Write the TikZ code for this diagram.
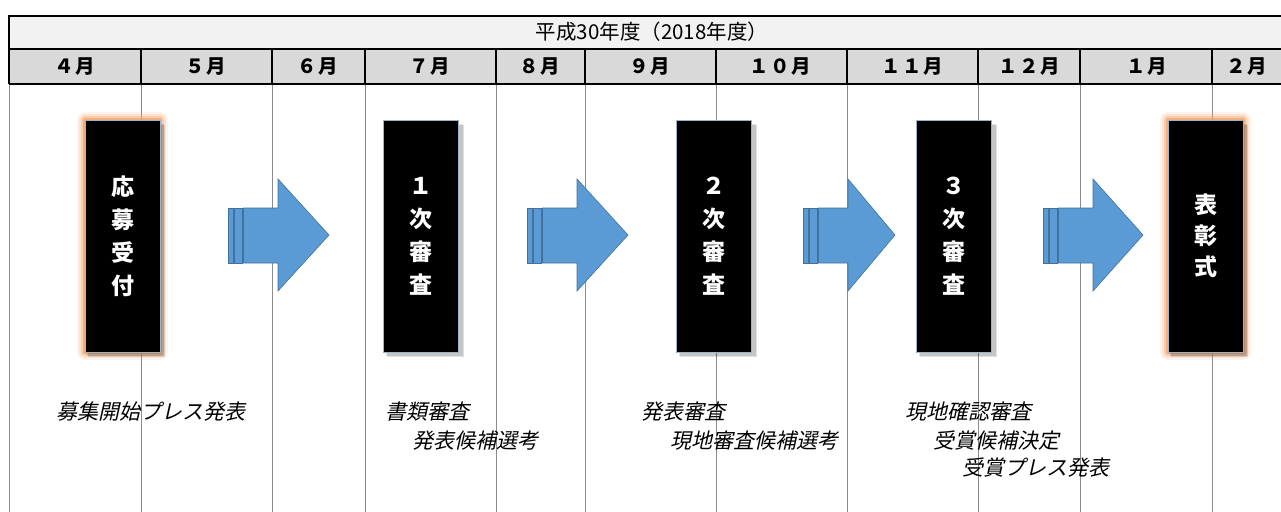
\documentclass[tikz,border=0pt]{standalone}
\usepackage{fontspec}
\newfontfamily\jp{Noto Sans CJK JP}
\newfontfamily\jpm[LetterSpace=8]{Noto Sans CJK JP}
\newfontfamily\jpit[FakeSlant=0.22]{Noto Sans CJK JP}
\definecolor{hdrfill}{HTML}{F2F2F2}
\definecolor{monfill}{HTML}{D9D9D9}
\definecolor{gridgray}{HTML}{8C8C8C}
\definecolor{arrowblue}{HTML}{5B9BD5}
\definecolor{arrowedge}{HTML}{41719C}
\definecolor{glow}{HTML}{F2A066}
\definecolor{boxedge}{HTML}{9DB3C8}
\tikzset{
  gridline/.style={draw=gridgray,line width=0.9pt},
  hdrtext/.style={font=\jp\fontsize{20.5}{22}\selectfont,inner sep=0pt},
  montext/.style={font=\jpm\bfseries\fontsize{19.5}{21}\selectfont,inner sep=0pt},
  stagebox/.style={fill=black,draw=boxedge,line width=1pt,minimum width=75pt,minimum height=232pt,inner sep=0pt,
     text=white,align=center,font=\jp\bfseries\fontsize{23}{33}\selectfont},
  labeltext/.style={font=\jpit\fontsize{21}{22}\selectfont,anchor=west,inner sep=0pt},
  arrowpart/.style={fill=arrowblue,draw=arrowedge,line width=0.6pt},
}
\begin{document}
\begin{tikzpicture}[x=1pt,y=-1pt]
\useasboundingbox (0,0) rectangle (1281,511);
% grid lines below header
\foreach \x in {9,141,272,365,496,585,716,847,978,1080,1212}
  \draw[gridline] (\x,84) -- (\x,512);
% header rows
\fill[hdrfill] (9,16) rectangle (1290,49);
\fill[monfill] (9,49) rectangle (1290,84);
\draw[line width=2pt] (9,16) -- (1290,16);
\draw[line width=2pt] (9,49) -- (1290,49);
\draw[line width=1.4pt] (9,84) -- (1290,84);
\draw[line width=1.4pt] (9,15) -- (9,84);
\foreach \x in {141,272,365,496,585,716,847,978,1080,1212}
  \draw[line width=1.2pt] (\x,49) -- (\x,84);
\node[hdrtext] (title) at (652,32) {平成30年度（2018年度）};
\node[montext] (m4) at (75,67) {４月};
\node[montext] (m5) at (206,67) {５月};
\node[montext] (m6) at (318,67) {６月};
\node[montext] (m7) at (430,67) {７月};
\node[montext] (m8) at (540,67) {８月};
\node[montext] (m9) at (650,67) {９月};
\node[montext] (m10) at (780,67) {１０月};
\node[montext] (m11) at (912,67) {１１月};
\node[montext] (m12) at (1029,67) {１２月};
\node[montext] (m1) at (1147,67) {１月};
\node[montext] (m2) at (1247,67) {２月};
% glows and shadows
\foreach \cx in {122.5,1205.5}{
  \foreach \w/\o in {16/0.12,12/0.2,8/0.35,4/0.7}
    \draw[glow,line width=\w pt,opacity=\o,line join=round] (\cx-37.5,120) rectangle (\cx+37.5,352);
}
\foreach \cx in {122.5,421,714,954,1205.5}{
  \fill[black,opacity=0.12] (\cx-34.5,125) rectangle (\cx+42.5,357);
  \fill[black,opacity=0.12] (\cx-35.5,124) rectangle (\cx+41.5,356);
}
% stage boxes
\node[stagebox] (s0) at (122.5,236) {応\\募\\受\\付};
\node[stagebox] (s1) at (421,236) {１\\次\\審\\査};
\node[stagebox] (s2) at (714,236) {２\\次\\審\\査};
\node[stagebox] (s3) at (954,236) {３\\次\\審\\査};
\node[stagebox,font=\jp\bfseries\fontsize{23}{31}\selectfont] (s4) at (1205.5,236) {表\\彰\\式};
% block arrows
\foreach \s/\h/\t in {228/278/329, 527/577/628, 803/848/895, 1043/1093/1143}{
  \draw[arrowpart] (\s,208) rectangle (\s+5,263);
  \draw[arrowpart] (\s+6.5,208) rectangle (\s+14,263);
  \draw[arrowpart,line join=miter] (\s+15.5,208) -- (\h,208) -- (\h,179) -- (\t,235) -- (\h,291) -- (\h,263) -- (\s+15.5,263) -- cycle;
}
% labels
\node[labeltext] (l1) at (56,412) {募集開始プレス発表};
\node[labeltext] (l2) at (385,412) {書類審査};
\node[labeltext] (l3) at (412,441) {発表候補選考};
\node[labeltext] (l4) at (641,412) {発表審査};
\node[labeltext] (l5) at (670,441) {現地審査候補選考};
\node[labeltext] (l6) at (905,412) {現地確認審査};
\node[labeltext] (l7) at (933,441) {受賞候補決定};
\node[labeltext] (l8) at (962,468) {受賞プレス発表};
\end{tikzpicture}
\end{document}
